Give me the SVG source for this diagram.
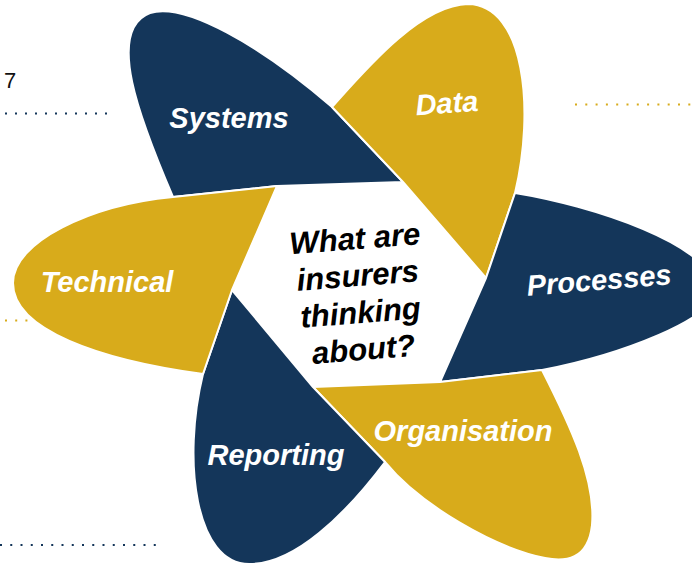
<svg xmlns="http://www.w3.org/2000/svg" width="692" height="564" viewBox="0 0 692 564">
<style>
.navy{fill:#14365a;stroke:#fff;stroke-width:2;stroke-linejoin:round}
.gold{fill:#d8ab1b;stroke:#fff;stroke-width:2;stroke-linejoin:round}
.lbl{font-family:"Liberation Sans",Arial,sans-serif;font-weight:bold;font-style:italic;font-size:29px;fill:#fff;text-anchor:middle}
.ctr{font-family:"Liberation Sans",Arial,sans-serif;font-weight:bold;font-style:italic;font-size:31px;fill:#000;text-anchor:middle}
.dn{stroke:#14365a;stroke-width:2;fill:none}
.dg{stroke:#d8ab1b;stroke-width:2;fill:none}
</style>
<rect width="692" height="564" fill="#fff"/>
<g id="decor">
<text x="4" y="88" font-family="Liberation Sans, Arial, sans-serif" font-size="22" fill="#111">7</text>
<line class="dn" x1="5" y1="113.5" x2="110" y2="113.5" stroke-dasharray="2 8"/>
<line class="dg" x1="575" y1="104.5" x2="692" y2="104.5" stroke-dasharray="2 8.3"/>
<line class="dg" x1="5" y1="320.5" x2="60" y2="320.5" stroke-dasharray="2 8.2"/>
<line class="dn" x1="0" y1="545" x2="157" y2="545" stroke-dasharray="2 8.25"/>
</g>
<g id="systems">
<path class="navy" d="M332,107 L403,182 L277,186 L173,197 C140,120 105,30 150,13 C185,2 260,45 332,107 Z"/>
<text class="lbl" x="229" y="128">Systems</text>
</g>
<g id="data">
<path class="gold" d="M515,193 L486,278 L403,182 L332,107 C365,70 420,5 468,4 C525,5 535,110 515,193 Z"/>
<text class="lbl" x="447" y="113" transform="rotate(-4 447 105)">Data</text>
</g>
<g id="processes">
<path class="navy" d="M542,370 L440,382 L486,278 L515,193 C590,205 715,245 715,290 C718,318 620,355 542,370 Z"/>
<text class="lbl" x="599" y="290" transform="rotate(-4.5 599 280)">Processes</text>
</g>
<g id="organisation">
<path class="gold" d="M385,462 L313,387 L440,382 L542,370 C570,425 596,480 592,525 C588,560 565,562 545,558 C495,548 420,505 385,462 Z"/>
<text class="lbl" x="463" y="441">Organisation</text>
</g>
<g id="reporting">
<path class="navy" d="M203,374 L232,290 L313,387 L385,462 C345,515 295,564 250,564 C195,565 182,460 203,374 Z"/>
<text class="lbl" x="276" y="465">Reporting</text>
</g>
<g id="technical">
<path class="gold" d="M173,197 L277,186 L232,290 L203,374 C100,360 13,330 13,283 C13,242 90,205 173,197 Z"/>
<text class="lbl" x="107" y="292">Technical</text>
</g>
<g id="center" transform="rotate(-4.5 360 305)">
<text class="ctr" x="360" y="249">What are</text>
<text class="ctr" x="360" y="286">insurers</text>
<text class="ctr" x="360" y="323">thinking</text>
<text class="ctr" x="360" y="360">about?</text>
</g>
</svg>
